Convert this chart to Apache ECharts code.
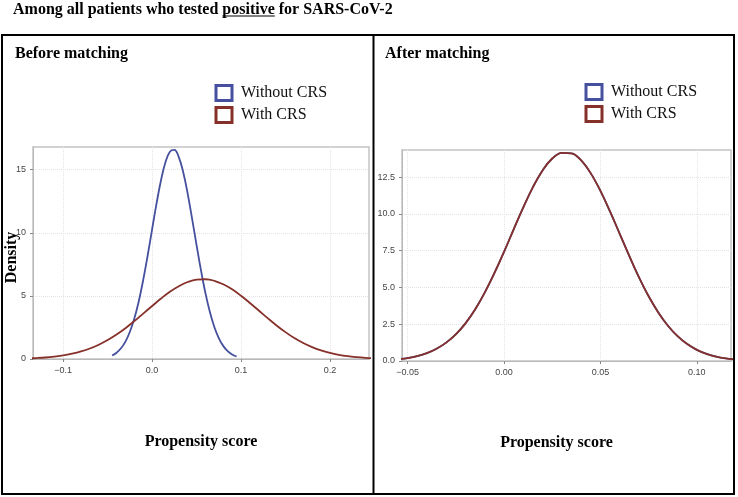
<!DOCTYPE html>
<html><head><meta charset="utf-8">
<script src="https://cdn.jsdelivr.net/npm/echarts@6/dist/echarts.min.js"></script>
<style>html,body{margin:0;padding:0;background:#fff}#c{width:738px;height:497px}</style>
</head><body><div id="c"></div>
<script>
// ---- data ----
const seriesNames = ['Without CRS', 'With CRS'];
const beforeWithoutX = [-0.045, -0.04, -0.035, -0.03, -0.025, -0.02, -0.015, -0.01, -0.005, 0.0, 0.005, 0.01, 0.015, 0.02, 0.025, 0.03, 0.035, 0.04, 0.045, 0.05, 0.055, 0.06, 0.065, 0.07, 0.075, 0.08, 0.085, 0.09, 0.095];
const beforeWithoutY = [0.28, 0.50, 0.85, 1.38, 2.16, 3.21, 4.58, 6.27, 8.20, 10.28, 12.33, 14.17, 15.59, 16.43, 16.57, 16.0, 14.80, 13.11, 11.11, 9.03, 7.02, 5.22, 3.72, 2.54, 1.66, 1.04, 0.62, 0.36, 0.20];
const beforeWithX = [-0.14, -0.13, -0.12, -0.11, -0.10, -0.09, -0.08, -0.07, -0.06, -0.05, -0.04, -0.03, -0.02, -0.01, 0.0, 0.01, 0.02, 0.03, 0.04, 0.05, 0.06, 0.07, 0.08, 0.09, 0.10, 0.11, 0.12, 0.13, 0.14, 0.15, 0.16, 0.17, 0.18, 0.19, 0.20, 0.21, 0.22, 0.23, 0.24, 0.25];
const beforeWithY = [0.048, 0.077, 0.12, 0.19, 0.28, 0.42, 0.60, 0.83, 1.13, 1.50, 1.94, 2.44, 3.00, 3.60, 4.20, 4.79, 5.33, 5.77, 6.10, 6.29, 6.32, 6.20, 5.92, 5.52, 5.01, 4.44, 3.84, 3.24, 2.66, 2.13, 1.66, 1.27, 0.94, 0.68, 0.48, 0.33, 0.22, 0.146, 0.093, 0.058];
const afterX = [-0.055, -0.05, -0.045, -0.04, -0.035, -0.03, -0.025, -0.02, -0.015, -0.01, -0.005, 0.0, 0.005, 0.01, 0.015, 0.02, 0.025, 0.03, 0.035, 0.04, 0.045, 0.05, 0.055, 0.06, 0.065, 0.07, 0.075, 0.08, 0.085, 0.09, 0.095, 0.10, 0.105, 0.11, 0.115, 0.12];
const afterWithoutY = [0.12, 0.20, 0.33, 0.53, 0.83, 1.25, 1.81, 2.56, 3.50, 4.65, 5.97, 7.42, 8.95, 10.45, 11.83, 12.96, 13.77, 14.16, 14.12, 13.64, 12.76, 11.57, 10.16, 8.65, 7.13, 5.69, 4.40, 3.30, 2.40, 1.69, 1.15, 0.76, 0.49, 0.30, 0.18, 0.105];
const afterWithY = [0.12, 0.20, 0.33, 0.53, 0.83, 1.25, 1.81, 2.56, 3.50, 4.65, 5.97, 7.42, 8.95, 10.45, 11.83, 12.96, 13.77, 14.16, 14.12, 13.64, 12.76, 11.57, 10.16, 8.65, 7.13, 5.69, 4.40, 3.30, 2.40, 1.69, 1.15, 0.76, 0.49, 0.30, 0.18, 0.105];
const xTicksBefore = [-0.1, 0.0, 0.1, 0.2];
const yTicksBefore = [0, 5, 10, 15];
const xTicksAfter = [-0.05, 0.0, 0.05, 0.10];
const yTicksAfter = [0.0, 2.5, 5.0, 7.5, 10.0, 12.5];

// ---- styling ----
const BLUE = '#45509e';
const RED = '#86302a';
const SERIF = '"Liberation Serif", "Times New Roman", serif';
const SANS = '"Liberation Sans", Arial, sans-serif';
const zip = (xs, ys) => xs.map((x, i) => [x, ys[i]]);
const fmt = d => v => (v < 0 ? '\u2212' : '') + Math.abs(v).toFixed(d);

const chart = echarts.init(document.getElementById('c'), null, {renderer: 'canvas'});

// measure title pieces for underline
const titlePre = 'Among all patients who tested ';
const titleU = 'positive';
const titlePost = ' for SARS-CoV-2';
const cv = document.createElement('canvas').getContext('2d');
cv.font = 'bold 16px ' + SERIF;
const titleX = 13;
const uStart = titleX + cv.measureText(titlePre).width;
const uEnd = uStart + cv.measureText(titleU).width;

function xAxisCfg(gi, min, max, ticks, dec, extra) {
  return Object.assign({
    type: 'value', gridIndex: gi, min: min, max: max,
    name: 'Propensity score', nameLocation: 'middle', nameGap: 75, nameMoveOverlap: false,
    nameTextStyle: {fontFamily: SERIF, fontWeight: 'bold', fontSize: 16, color: '#000'},
    axisLine: {show: true, onZero: false, lineStyle: {color: '#b8b8b8', width: 1}},
    axisTick: {show: true, length: 3, lineStyle: {color: '#888'}, customValues: ticks},
    axisLabel: {customValues: ticks, formatter: fmt(dec), fontFamily: SANS, fontSize: 9, color: '#444', margin: 7},
    splitLine: {show: true, lineStyle: {color: '#e4e4e4', type: 'dotted', width: 1}}
  }, extra || {});
}
function yAxisCfg(gi, min, max, ticks, dec, extra) {
  return Object.assign({
    type: 'value', gridIndex: gi, min: min, max: max, nameMoveOverlap: false,
    axisLine: {show: true, onZero: false, lineStyle: {color: '#b8b8b8', width: 1}},
    axisTick: {show: true, length: 3, lineStyle: {color: '#888'}, customValues: ticks},
    axisLabel: {customValues: ticks, formatter: fmt(dec), fontFamily: SANS, fontSize: 9, color: '#444', margin: 7},
    splitLine: {show: true, lineStyle: {color: '#e4e4e4', type: 'dotted', width: 1}}
  }, extra || {});
}
const legendBase = {
  orient: 'vertical', itemWidth: 16, itemHeight: 15, itemGap: 4, icon: 'rect',
  textStyle: {fontFamily: SERIF, fontSize: 16, color: '#111', padding: [0, 0, 0, 4]},
  data: [
    {name: seriesNames[0], itemStyle: {color: '#fff', borderColor: BLUE, borderWidth: 3}},
    {name: seriesNames[1], itemStyle: {color: '#fff', borderColor: RED, borderWidth: 3}}
  ]
};
function lineSeries(name, color, xi, data) {
  return {
    type: 'line', name: name, xAxisIndex: xi, yAxisIndex: xi, data: data,
    smooth: 0.4, showSymbol: false, symbol: 'none', animation: false, clip: true,
    lineStyle: {color: color, width: 1.8}, itemStyle: {color: color}
  };
}

chart.setOption({
  backgroundColor: '#fff',
  animation: false,
  grid: [
    {left: 33, top: 147, width: 336, height: 212, show: true, borderColor: '#c4c4c4', borderWidth: 1.5, backgroundColor: 'transparent', outerBoundsMode: 'none', containLabel: false},
    {left: 402, top: 150, width: 329, height: 211, show: true, borderColor: '#c4c4c4', borderWidth: 1.5, backgroundColor: 'transparent', outerBoundsMode: 'none', containLabel: false}
  ],
  legend: [
    Object.assign({left: 209.5, top: 79}, legendBase),
    Object.assign({left: 579.5, top: 78}, legendBase)
  ],
  xAxis: [
    xAxisCfg(0, -0.134, 0.244, xTicksBefore, 1),
    xAxisCfg(1, -0.0529, 0.1177, xTicksAfter, 2, {nameGap: 74, nameTextStyle: {fontFamily: SERIF, fontWeight: 'bold', fontSize: 16, color: '#000', padding: [0, 20, 0, 0]}})
  ],
  yAxis: [
    yAxisCfg(0, 0, 16.8, yTicksBefore, 0, {
      name: 'Density', nameLocation: 'middle', nameGap: 13,
      nameTextStyle: {fontFamily: SERIF, fontWeight: 'bold', fontSize: 16, color: '#000', padding: [0, 9, 0, 0]}
    }),
    yAxisCfg(1, 0, 14.35, yTicksAfter, 1)
  ],
  series: [
    lineSeries(seriesNames[0], BLUE, 0, zip(beforeWithoutX, beforeWithoutY)),
    lineSeries(seriesNames[1], RED, 0, zip(beforeWithX, beforeWithY)),
    lineSeries(seriesNames[0], BLUE, 1, zip(afterX, afterWithoutY)),
    lineSeries(seriesNames[1], RED, 1, zip(afterX, afterWithY))
  ],
  graphic: [
    {type: 'text', x: titleX, y: 10, style: {text: titlePre + titleU + titlePost, font: 'bold 16px ' + SERIF, fill: '#000', verticalAlign: 'middle'}},
    {type: 'line', shape: {x1: uStart, y1: 16, x2: uEnd, y2: 16}, style: {stroke: '#000', lineWidth: 1}},
    {type: 'rect', shape: {x: 2, y: 35, width: 732, height: 459}, style: {fill: 'none', stroke: '#000', lineWidth: 2}},
    {type: 'line', shape: {x1: 373.5, y1: 35, x2: 373.5, y2: 494}, style: {stroke: '#000', lineWidth: 2}},
    {type: 'text', x: 15, y: 54, style: {text: 'Before matching', font: 'bold 16px ' + SERIF, fill: '#000', verticalAlign: 'middle'}},
    {type: 'text', x: 385, y: 54, style: {text: 'After matching', font: 'bold 16px ' + SERIF, fill: '#000', verticalAlign: 'middle'}}
  ]
});
</script></body></html>
